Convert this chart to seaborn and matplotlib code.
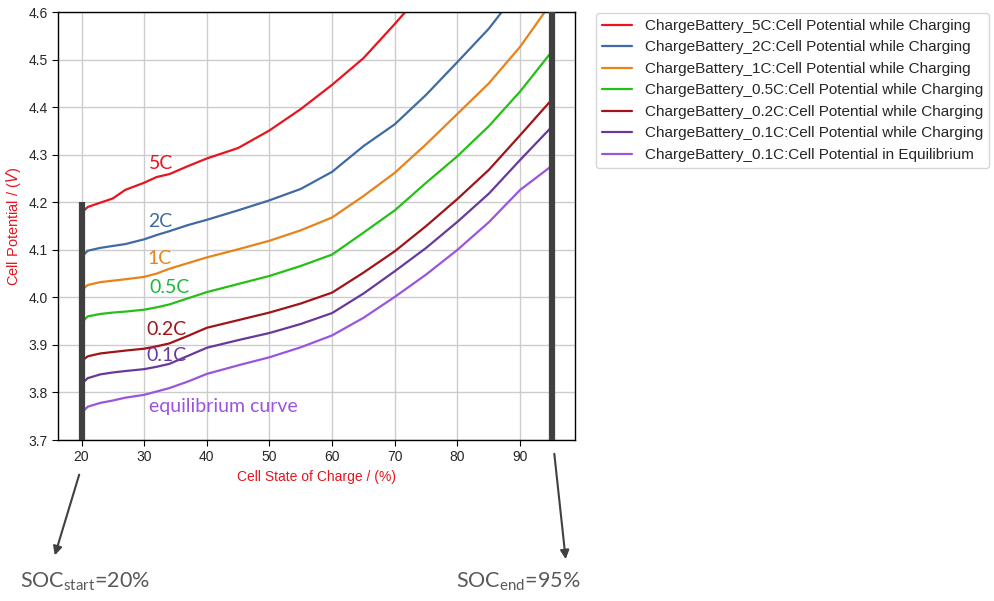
import numpy as np
import pandas as pd
import matplotlib
matplotlib.use("Agg")
import matplotlib.pyplot as plt
import seaborn as sns

# ---- data ----
soc = [20, 21, 23, 25, 27, 30, 32, 34, 37, 40, 45, 50, 55, 60, 65, 70, 75, 80, 85, 90, 95]

v_5c = [4.178, 4.190, 4.199, 4.208, 4.226, 4.241, 4.253, 4.259, 4.276, 4.292, 4.314, 4.351,
        4.396, 4.447, 4.503, 4.575, 4.650, 4.720, 4.800, 4.880, 4.960]
v_2c = [4.085, 4.098, 4.104, 4.108, 4.112, 4.122, 4.131, 4.139, 4.152, 4.163, 4.183, 4.204,
        4.228, 4.264, 4.318, 4.364, 4.426, 4.495, 4.565, 4.650, 4.730]
v_1c = [4.015, 4.026, 4.032, 4.035, 4.038, 4.043, 4.050, 4.060, 4.072, 4.084, 4.101, 4.119,
        4.141, 4.168, 4.213, 4.262, 4.322, 4.386, 4.450, 4.527, 4.620]
v_05c = [3.947, 3.960, 3.965, 3.968, 3.970, 3.974, 3.979, 3.985, 3.998, 4.011, 4.028, 4.045,
         4.066, 4.090, 4.136, 4.183, 4.241, 4.297, 4.360, 4.433, 4.516]
v_02c = [3.866, 3.876, 3.882, 3.885, 3.888, 3.892, 3.897, 3.903, 3.919, 3.936, 3.952, 3.968,
         3.987, 4.010, 4.052, 4.097, 4.150, 4.207, 4.268, 4.341, 4.415]
v_01c = [3.818, 3.830, 3.838, 3.842, 3.845, 3.849, 3.854, 3.860, 3.877, 3.894, 3.910, 3.925,
         3.944, 3.967, 4.008, 4.055, 4.104, 4.159, 4.218, 4.289, 4.358]
v_eq = [3.757, 3.770, 3.778, 3.783, 3.789, 3.795, 3.802, 3.809, 3.823, 3.839, 3.857, 3.874,
        3.895, 3.920, 3.957, 4.001, 4.048, 4.100, 4.158, 4.226, 4.276]

series_names = [
    "ChargeBattery_5C:Cell Potential while Charging",
    "ChargeBattery_2C:Cell Potential while Charging",
    "ChargeBattery_1C:Cell Potential while Charging",
    "ChargeBattery_0.5C:Cell Potential while Charging",
    "ChargeBattery_0.2C:Cell Potential while Charging",
    "ChargeBattery_0.1C:Cell Potential while Charging",
    "ChargeBattery_0.1C:Cell Potential in Equilibrium",
]
series_values = [v_5c, v_2c, v_1c, v_05c, v_02c, v_01c, v_eq]
colors = ["#e8141e", "#3f6aa3", "#e8821a", "#24c015", "#a01418", "#68399c", "#9a55e0"]

curve_labels = ["5C", "2C", "1C", "0.5C", "0.2C", "0.1C", "equilibrium curve"]
label_x = [30.8, 30.6, 30.6, 30.8, 30.4, 30.4, 30.8]
label_y = [4.282, 4.160, 4.081, 4.020, 3.933, 3.877, 3.770]
label_colors = ["#e8141e", "#3f6aa3", "#e8821a", "#1ab83a", "#a01418", "#68399c", "#9a55e0"]

x_ticks = [20, 30, 40, 50, 60, 70, 80, 90]
y_ticks = [3.7, 3.8, 3.9, 4.0, 4.1, 4.2, 4.3, 4.4, 4.5, 4.6]
soc_start, soc_end = 20, 95

# ---- build long table ----
rows = []
for name, vals in zip(series_names, series_values):
    for s, v in zip(soc, vals):
        rows.append({"soc": s, "v": v, "series": name})
df = pd.DataFrame(rows)

sns.set_style("whitegrid", {"axes.edgecolor": "black", "grid.color": "#cccccc",
                            "xtick.bottom": True, "ytick.left": True})
plt.rcParams["font.family"] = ["Liberation Sans", "DejaVu Sans"]
plt.rcParams["mathtext.default"] = "regular"

fig = plt.figure(figsize=(9.95, 6.01), dpi=100)
ax = fig.add_axes([58 / 995, 161 / 601, 517 / 995, 428 / 601])

sns.lineplot(data=df, x="soc", y="v", hue="series", hue_order=series_names,
             palette=colors, sort=False, estimator=None, linewidth=1.6, ax=ax)

ax.set_xlim(16.25, 98.75)
ax.set_ylim(3.7, 4.6)
ax.set_xticks(x_ticks)
ax.set_yticks(y_ticks)
ax.tick_params(axis="both", labelsize=10, length=4, color="black")
for sp in ax.spines.values():
    sp.set_color("black")
    sp.set_linewidth(1.0)
ax.grid(True, color="#cccccc", linewidth=1.0)

ax.set_xlabel("Cell State of Charge / (%)", color="#e8141e", fontsize=10)
ax.set_ylabel("Cell Potential / ($\\mathit{V}$)", color="#e8141e", fontsize=10.5)

# SOC window bars
ax.vlines(soc_start, 3.7, 4.2, color="#404040", linewidth=4.5, zorder=5)
ax.axvline(soc_end, color="#404040", linewidth=4.5, zorder=5)

# curve labels
for t, x, y, c in zip(curve_labels, label_x, label_y, label_colors):
    ax.text(x, y, t, color=c, fontsize=14, family=["Lato", "DejaVu Sans"],
            ha="left", va="center")

leg = ax.legend(loc="upper left", bbox_to_anchor=(1.04, 0.998), borderaxespad=0,
                fontsize=11, labelspacing=0.49, handlelength=2.0, handletextpad=0.8,
                frameon=True)
leg.get_frame().set_edgecolor("#cccccc")
for line in leg.get_lines():
    line.set_linewidth(1.6)

# annotations below
arrow = dict(arrowstyle="-|>", color="#404040", lw=1.5, mutation_scale=13)
fig.add_artist(matplotlib.patches.FancyArrowPatch((80, 601 - 472), (54, 601 - 558),
               transform=None, **arrow))
fig.add_artist(matplotlib.patches.FancyArrowPatch((554, 601 - 451), (566, 601 - 562),
               transform=None, **arrow))
fig.text(20 / 995, 1 - 588 / 601, "SOC$_{start}$=20%", fontsize=15.5, color="#595959",
         family=["Lato", "DejaVu Sans"], ha="left", va="baseline")
fig.text(456 / 995, 1 - 588 / 601, "SOC$_{end}$=95%", fontsize=15.5, color="#595959",
         family=["Lato", "DejaVu Sans"], ha="left", va="baseline")

fig.savefig("out.png", dpi=100)
